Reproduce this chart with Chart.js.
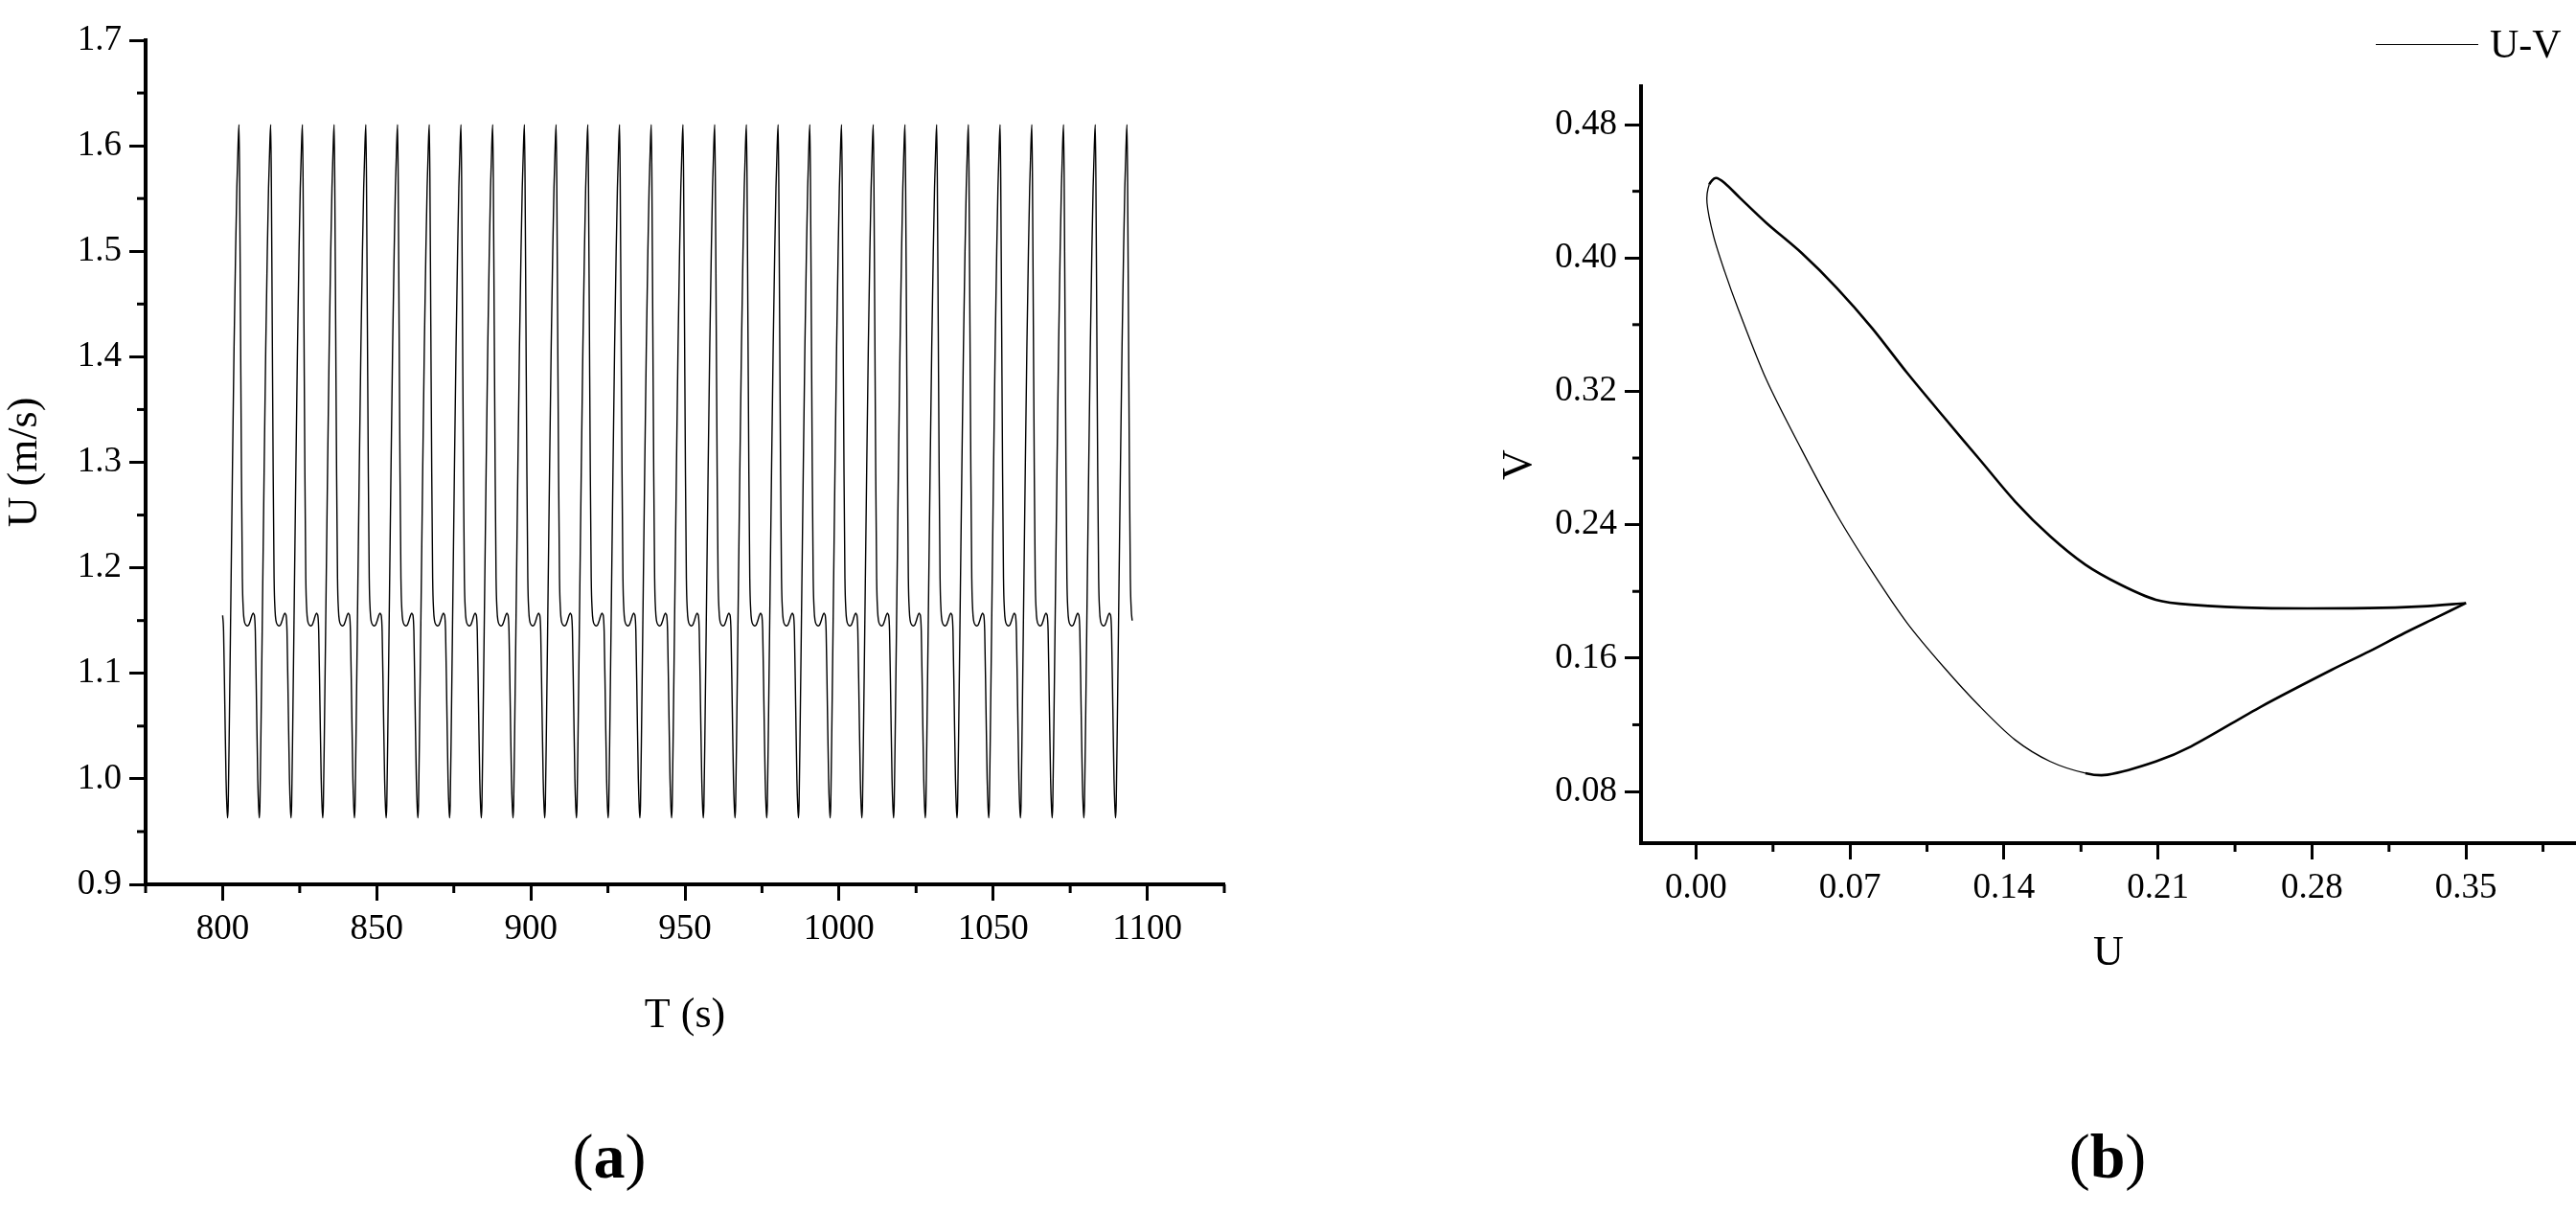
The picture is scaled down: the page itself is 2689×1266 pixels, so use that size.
<!DOCTYPE html>
<html>
<head>
<meta charset="utf-8">
<script src="https://cdn.jsdelivr.net/npm/chart.js@4.4.1/dist/chart.umd.min.js"></script>
<style>
  body { margin: 0; background: #fff; width: 2689px; height: 1266px; position: relative; overflow: hidden; font-family: "Liberation Serif", serif; }
  canvas { position: absolute; }
  .cap { position: absolute; font-size: 66px; transform: translate(-50%, -50%); }
  .cap b { font-weight: bold; }
  #legend { position: absolute; left: 2480px; top: 22px; font-size: 42px; display: flex; align-items: center; }
  #legend span.ln { display: inline-block; width: 107px; border-top: 1.5px solid #000; margin-right: 12px; }
</style>
</head>
<body>
<canvas id="left" width="1300" height="1095" style="left:0;top:0"></canvas>
<canvas id="right" width="1129" height="1030" style="left:1560px;top:0"></canvas>
<div class="cap" style="left:636px;top:1207px">(<b>a</b>)</div>
<div class="cap" style="left:2200px;top:1207px">(<b>b</b>)</div>
<div id="legend"><span class="ln"></span>U-V</div>
<script>
// (a) one oscillation cycle of U, repeated over the run
const period = 10.29;
const cycleT = [0, 0.3, 0.7, 1.1, 1.4, 1.6, 1.8, 2.2, 2.7, 3.2, 3.7, 4.2, 4.6, 5.0, 5.3, 5.5, 5.8, 6.1, 6.4, 6.7, 7.0, 7.5, 8.0, 8.5, 9.0, 9.5, 9.9, 10.1];
const cycleU = [1.155, 1.14, 1.07, 1.0, 0.972, 0.963, 0.975, 1.06, 1.18, 1.30, 1.41, 1.50, 1.56, 1.60, 1.62, 1.57, 1.43, 1.29, 1.19, 1.16, 1.15, 1.146, 1.145, 1.146, 1.15, 1.155, 1.157, 1.156];
const tStart = 800;
const tEnd = 1095.2;
const aXTicks = [800, 850, 900, 950, 1000, 1050, 1100];
const aXMinor = [775, 825, 875, 925, 975, 1025, 1075, 1125];
const aYTicks = [0.9, 1.0, 1.1, 1.2, 1.3, 1.4, 1.5, 1.6, 1.7];
const aYMinor = [0.95, 1.05, 1.15, 1.25, 1.35, 1.45, 1.55, 1.65];

// (b) U-V phase loop, starting at the right tip, going along the upper branch
const loopU = [0.350, 0.330, 0.306, 0.257, 0.225, 0.209, 0.193, 0.177, 0.161, 0.145, 0.129, 0.113, 0.096, 0.080, 0.064, 0.048, 0.032, 0.020, 0.013, 0.009, 0.006, 0.005, 0.008, 0.013, 0.019, 0.032, 0.048, 0.064, 0.080, 0.096, 0.113, 0.129, 0.145, 0.161, 0.177, 0.187, 0.209, 0.225, 0.257, 0.289, 0.306, 0.322, 0.336, 0.350];
const loopV = [0.193, 0.191, 0.190, 0.190, 0.192, 0.195, 0.204, 0.216, 0.233, 0.254, 0.279, 0.304, 0.331, 0.358, 0.382, 0.403, 0.421, 0.436, 0.445, 0.448, 0.444, 0.433, 0.413, 0.392, 0.370, 0.327, 0.285, 0.246, 0.212, 0.181, 0.154, 0.131, 0.111, 0.098, 0.091, 0.090, 0.098, 0.107, 0.131, 0.153, 0.164, 0.175, 0.184, 0.193];
const bXTicks = [0.00, 0.07, 0.14, 0.21, 0.28, 0.35];
const bXMinor = [0.035, 0.105, 0.175, 0.245, 0.315, 0.385];
const bYTicks = [0.08, 0.16, 0.24, 0.32, 0.40, 0.48];
const bYMinor = [0.12, 0.20, 0.28, 0.36, 0.44];

const series = [];
for (let k = 0; tStart + k * period <= tEnd; k++) {
  cycleT.forEach((t, i) => {
    const x = tStart + k * period + t;
    if (x <= tEnd) series.push({ x: x, y: cycleU[i] });
  });
}
const loop = loopU.map((u, i) => ({ x: u, y: loopV[i] }));

const FONT = "Liberation Serif";

// short unlabeled ticks between the major ones
const minorTicks = {
  id: 'minorTicks',
  afterDraw(chart, args, opts) {
    const ctx = chart.ctx, xs = chart.scales.x, ys = chart.scales.y;
    ctx.save();
    ctx.strokeStyle = '#000';
    ctx.lineWidth = 3;
    opts.x.forEach(v => {
      const p = xs.getPixelForValue(v);
      ctx.beginPath(); ctx.moveTo(p, xs.top); ctx.lineTo(p, xs.top + 9); ctx.stroke();
    });
    opts.y.forEach(v => {
      const p = ys.getPixelForValue(v);
      ctx.beginPath(); ctx.moveTo(ys.right, p); ctx.lineTo(ys.right - 9, p); ctx.stroke();
    });
    ctx.restore();
  }
};

const axis = (min, max, ticks, digits, title, size, titlePad) => ({
  type: 'linear', min: min, max: max,
  afterBuildTicks: s => { s.ticks = ticks.map(v => ({ value: v })); },
  afterFit: s => { if (s.isHorizontal()) s.height = size; else s.width = size; },
  grid: { drawOnChartArea: false, tickLength: 17, tickWidth: 3, tickColor: '#000' },
  border: { color: '#000', width: 4 },
  ticks: { color: '#000', padding: 8, font: { family: FONT, size: 37 }, maxRotation: 0, autoSkip: false,
           callback: v => Number(v).toFixed(digits) },
  title: { display: true, text: title, color: '#000', font: { family: FONT, size: 44 }, padding: titlePad }
});

new Chart(document.getElementById('left'), {
  type: 'scatter',
  data: { datasets: [{ data: series, showLine: true, pointRadius: 0, borderColor: '#000', borderWidth: 1.4, cubicInterpolationMode: 'monotone' }] },
  options: {
    responsive: false, animation: false,
    layout: { padding: { top: 42, right: 22, left: 0, bottom: 0 } },
    plugins: { legend: { display: false }, tooltip: { enabled: false }, minorTicks: { x: aXMinor, y: aYMinor } },
    scales: {
      x: axis(775, 1125, aXTicks, 0, 'T (s)', 172, { top: 0, bottom: 8 }),
      y: axis(0.9, 1.7, aYTicks, 1, 'U (m/s)', 152, { top: 0, bottom: 12 })
    }
  },
  plugins: [minorTicks]
});

new Chart(document.getElementById('right'), {
  type: 'scatter',
  data: { datasets: [{ label: 'U-V', data: loop, showLine: true, pointRadius: 0, borderColor: '#000', borderWidth: 2.6, tension: 0.3,
    segment: { borderWidth: c => (c.p0DataIndex >= 20 && c.p0DataIndex < 34) ? 1.3 : 2.6 } }] },
  options: {
    responsive: false, animation: false,
    layout: { padding: { top: 90, right: 0, left: 0, bottom: 0 } },
    plugins: { legend: { display: false }, tooltip: { enabled: false }, minorTicks: { x: bXMinor, y: bYMinor } },
    scales: {
      x: axis(-0.025, 0.40, bXTicks, 2, 'U', 150, { top: 0, bottom: 8 }),
      y: axis(0.049, 0.503, bYTicks, 2, 'V', 153, { top: 0, bottom: 18 })
    }
  },
  plugins: [minorTicks]
});
</script>
</body>
</html>
